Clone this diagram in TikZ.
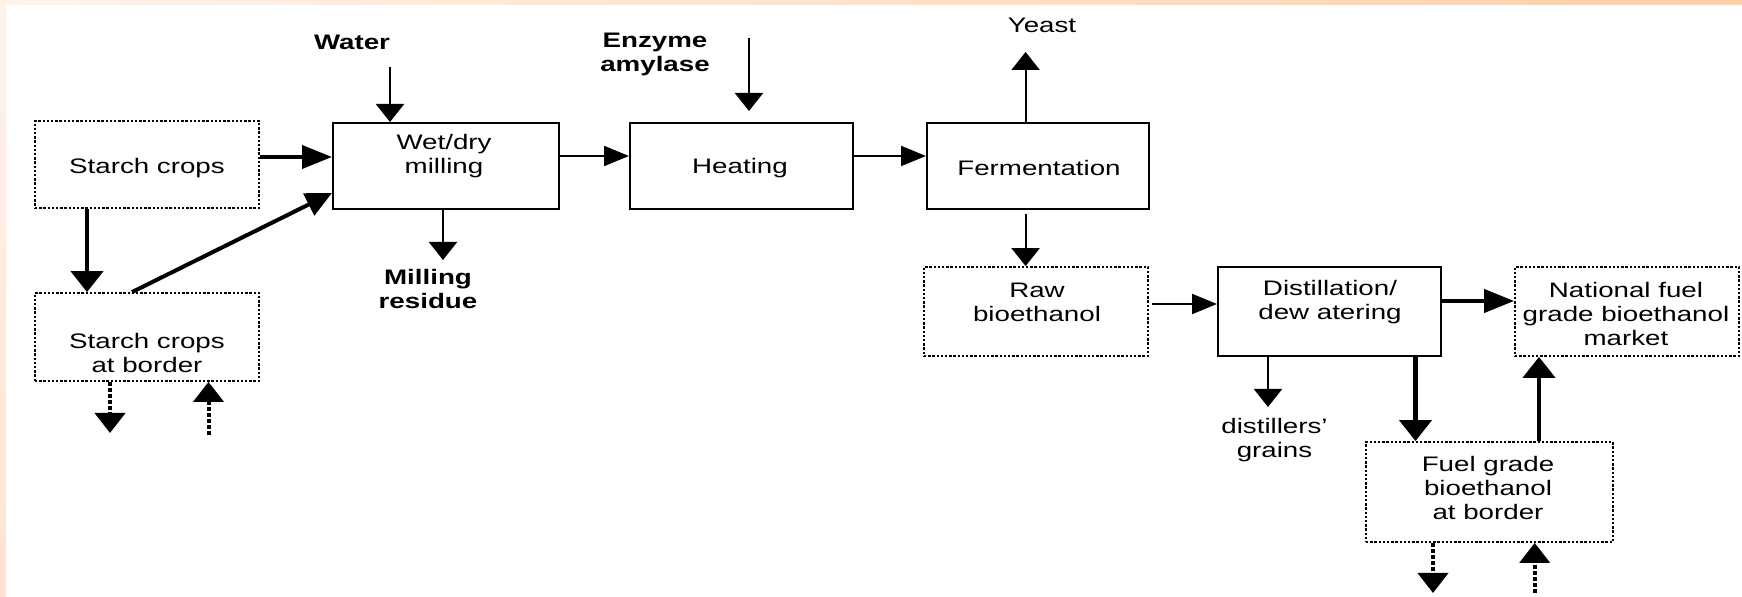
\documentclass[tikz,border=0pt]{standalone}
\usepackage{fontspec}
\setmainfont{Liberation Sans}[FakeStretch=1.32]
\usetikzlibrary{arrows.meta,calc}
\definecolor{peachA}{HTML}{FFF3EC}
\definecolor{peachB}{HTML}{FFCFA6}
\definecolor{peachC}{HTML}{FFE3D2}
\begin{document}
\begin{tikzpicture}[x=0.5pt,y=-0.5pt,
  procbox/.style={draw, line width=1pt, inner sep=0pt},
  borderbox/.style={draw, line width=0.9pt, dash pattern=on 1.2pt off 0.9pt, inner sep=0pt},
  lbl/.style={font={\fontsize{10.5}{12}\selectfont}, align=center, inner sep=0pt},
  blbl/.style={font={\fontsize{10.5}{12}\selectfont\bfseries}, align=center, inner sep=0pt},
  vthin/.style={line width=1.1pt, -{Triangle[length=9pt,width=14pt]}},
  hthin/.style={line width=1pt, -{Triangle[length=12.5pt,width=10pt]}},
  vthick/.style={line width=2.2pt, -{Triangle[length=10.5pt,width=16pt]}},
  hthick/.style={line width=2pt, -{Triangle[length=15pt,width=11.5pt]}},
  dthick/.style={line width=2pt, -{Triangle[length=13pt,width=12pt]}},
  vdash/.style={line width=2pt, dash pattern=on 2pt off 1pt, -{Triangle[length=10pt,width=15pt]}}
]
\useasboundingbox (0,0) rectangle (1742,597);
\fill[white] (0,0) rectangle (1742,597);
\shade[left color=peachA, right color=peachB] (0,0) rectangle (1742,5);
\shade[top color=peachA, bottom color=peachC] (0,5) rectangle (6,597);

% boxes
\node[borderbox, minimum width=112pt, minimum height=43.5pt] (starch) at (147,164.5) {};
\node[procbox, minimum width=113pt, minimum height=43pt] (milling) at (446,166) {};
\node[procbox, minimum width=111.5pt, minimum height=43pt] (heating) at (741.5,166) {};
\node[procbox, minimum width=111pt, minimum height=43pt] (ferm) at (1038,166) {};
\node[borderbox, minimum width=112pt, minimum height=44pt] (border) at (147,337) {};
\node[borderbox, minimum width=112pt, minimum height=44.5pt] (raw) at (1036,311.5) {};
\node[procbox, minimum width=111.5pt, minimum height=44.5pt] (distill) at (1329.5,311.5) {};
\node[borderbox, minimum width=112pt, minimum height=44.5pt] (national) at (1627,311.5) {};
\node[borderbox, minimum width=123.5pt, minimum height=50pt] (fuelb) at (1489.5,492) {};

% texts
\node[lbl] (tstarch) at (147,168) {Starch crops};
\node[lbl] (tmilling) at (444,156) {Wet/dry\\milling};
\node[lbl] (theating) at (740,168) {Heating};
\node[lbl] (tferm) at (1039,168) {Fermentation};
\node[lbl] (tborder) at (147,353) {Starch crops\\at border};
\node[lbl] (traw) at (1037,302) {Raw\\bioethanol};
\node[lbl] (tdistill) at (1330,302) {Distillation/\\dew atering};
\node[lbl] (tnational) at (1626,314) {National fuel\\grade bioethanol\\market};
\node[lbl] (tfuelb) at (1488,488) {Fuel grade\\bioethanol\\at border};
\node[blbl] (twater) at (352,42) {Water};
\node[blbl] (tenzyme) at (655,54) {Enzyme\\amylase};
\node[lbl] (tyeast) at (1042,25) {Yeast};
\node[blbl] (tresidue) at (428,289) {Milling\\residue};
\node[lbl] (tgrains) at (1274.5,440) {distillers'\\grains};

% free ends
\coordinate (wsrc) at (390,67);
\coordinate (esrc) at (749,38);
\coordinate (ytip) at (1025.6,52);
\coordinate (rtip) at (443,260);
\coordinate (gtip) at (1268,407);
\coordinate (bout1) at (110,433);
\coordinate (bin1) at (208.5,435);
\coordinate (bout2) at (1433,593);
\coordinate (bin2) at (1534.7,593);

% connectors
\draw[vthin] (wsrc) -- (wsrc |- milling.north);
\draw[vthin] (esrc) -- ($(esrc |- heating.north)+(0,-11)$);
\draw[hthick] ($(starch.east)+(0,-7.5)$) -- ($(milling.west)+(0,-9)$);
\draw[vthick] ($(starch.south)+(-60,0)$) -- ($(border.north)+(-60,0)$);
\draw[dthick] ($(border.north)+(-15,0)$) -- ($(milling.west)+(0,27)$);
\draw[hthin] ($(milling.east)+(0,-10)$) -- ($(heating.west)+(0,-10)$);
\draw[vthin] (rtip |- milling.south) -- (rtip);
\draw[hthin] ($(heating.east)+(0,-10)$) -- ($(ferm.west)+(0,-10)$);
\draw[vthin] ($(ferm.north)+(-12.4,0)$) -- (ytip);
\draw[vthin] ($(ferm.south)+(-12.4,4)$) -- ($(raw.north)+(-10.4,0)$);
\draw[vdash] (bout1 |- border.south) -- (bout1);
\draw[vdash] (bin1) -- (bin1 |- border.south);
\draw[hthin] ($(raw.east)+(3,-7.5)$) -- ($(distill.west)+(0,-7.5)$);
\draw[hthick] ($(distill.east)+(0,-10.5)$) -- ($(national.west)+(0,-10.5)$);
\draw[vthin] (gtip |- distill.south) -- (gtip);
\draw[vthick] ($(distill.south)+(86,0)$) -- ($(fuelb.north)+(-74,0)$);
\draw[vthick] ($(fuelb.north)+(49.5,0)$) -- ($(national.south)+(-88,0)$);
\draw[vdash] (bout2 |- fuelb.south) -- (bout2);
\draw[vdash] (bin2) -- (bin2 |- fuelb.south);
\end{tikzpicture}
\end{document}
